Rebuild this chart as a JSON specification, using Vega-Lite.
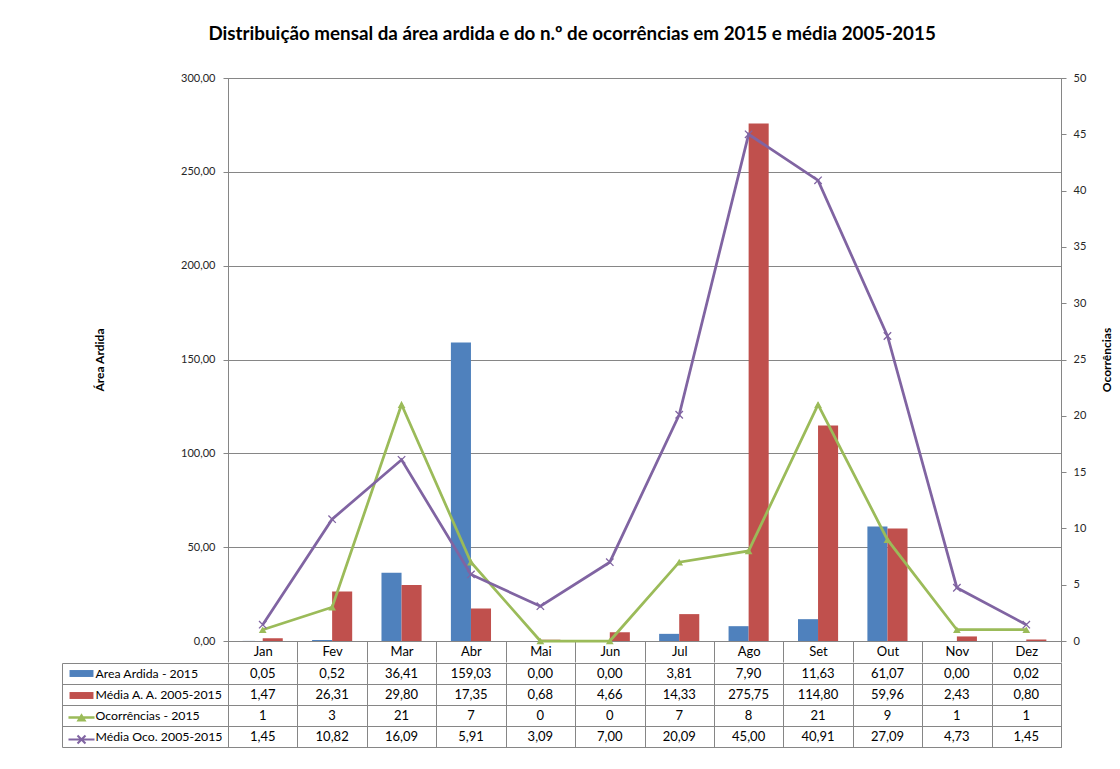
{
  "$schema": "https://vega.github.io/schema/vega-lite/v6.json",
  "padding": {"left": 61, "top": 24, "right": 4, "bottom": 4},
  "background": "white",
  "title": {"text": "Distribuição mensal da área ardida e do n.º de ocorrências em 2015 e média 2005-2015", "font": "Lato", "fontSize": 18.8, "fontWeight": "bold", "color": "#000000", "anchor": "middle", "offset": 28, "dx": -15},
  "config": {
    "locale": {"number": {"decimal": ",", "thousands": ".", "grouping": [3], "currency": ["", " €"]}},
    "view": {"stroke": "#868686", "strokeWidth": 1},
    "font": "Lato",
    "axis": {"labelFont": "Lato", "titleFont": "Lato"}
  },
  "data": {"values": [
    {"m": "Jan", "s": "Area Ardida - 2015", "v": 0.05},
    {"m": "Fev", "s": "Area Ardida - 2015", "v": 0.52},
    {"m": "Mar", "s": "Area Ardida - 2015", "v": 36.41},
    {"m": "Abr", "s": "Area Ardida - 2015", "v": 159.03},
    {"m": "Mai", "s": "Area Ardida - 2015", "v": 0.00},
    {"m": "Jun", "s": "Area Ardida - 2015", "v": 0.00},
    {"m": "Jul", "s": "Area Ardida - 2015", "v": 3.81},
    {"m": "Ago", "s": "Area Ardida - 2015", "v": 7.90},
    {"m": "Set", "s": "Area Ardida - 2015", "v": 11.63},
    {"m": "Out", "s": "Area Ardida - 2015", "v": 61.07},
    {"m": "Nov", "s": "Area Ardida - 2015", "v": 0.00},
    {"m": "Dez", "s": "Area Ardida - 2015", "v": 0.02},
    {"m": "Jan", "s": "Média A. A. 2005-2015", "v": 1.47},
    {"m": "Fev", "s": "Média A. A. 2005-2015", "v": 26.31},
    {"m": "Mar", "s": "Média A. A. 2005-2015", "v": 29.80},
    {"m": "Abr", "s": "Média A. A. 2005-2015", "v": 17.35},
    {"m": "Mai", "s": "Média A. A. 2005-2015", "v": 0.68},
    {"m": "Jun", "s": "Média A. A. 2005-2015", "v": 4.66},
    {"m": "Jul", "s": "Média A. A. 2005-2015", "v": 14.33},
    {"m": "Ago", "s": "Média A. A. 2005-2015", "v": 275.75},
    {"m": "Set", "s": "Média A. A. 2005-2015", "v": 114.80},
    {"m": "Out", "s": "Média A. A. 2005-2015", "v": 59.96},
    {"m": "Nov", "s": "Média A. A. 2005-2015", "v": 2.43},
    {"m": "Dez", "s": "Média A. A. 2005-2015", "v": 0.80},
    {"m": "Jan", "s": "Ocorrências - 2015", "v": 1},
    {"m": "Fev", "s": "Ocorrências - 2015", "v": 3},
    {"m": "Mar", "s": "Ocorrências - 2015", "v": 21},
    {"m": "Abr", "s": "Ocorrências - 2015", "v": 7},
    {"m": "Mai", "s": "Ocorrências - 2015", "v": 0},
    {"m": "Jun", "s": "Ocorrências - 2015", "v": 0},
    {"m": "Jul", "s": "Ocorrências - 2015", "v": 7},
    {"m": "Ago", "s": "Ocorrências - 2015", "v": 8},
    {"m": "Set", "s": "Ocorrências - 2015", "v": 21},
    {"m": "Out", "s": "Ocorrências - 2015", "v": 9},
    {"m": "Nov", "s": "Ocorrências - 2015", "v": 1},
    {"m": "Dez", "s": "Ocorrências - 2015", "v": 1},
    {"m": "Jan", "s": "Média Oco. 2005-2015", "v": 1.45},
    {"m": "Fev", "s": "Média Oco. 2005-2015", "v": 10.82},
    {"m": "Mar", "s": "Média Oco. 2005-2015", "v": 16.09},
    {"m": "Abr", "s": "Média Oco. 2005-2015", "v": 5.91},
    {"m": "Mai", "s": "Média Oco. 2005-2015", "v": 3.09},
    {"m": "Jun", "s": "Média Oco. 2005-2015", "v": 7.00},
    {"m": "Jul", "s": "Média Oco. 2005-2015", "v": 20.09},
    {"m": "Ago", "s": "Média Oco. 2005-2015", "v": 45.00},
    {"m": "Set", "s": "Média Oco. 2005-2015", "v": 40.91},
    {"m": "Out", "s": "Média Oco. 2005-2015", "v": 27.09},
    {"m": "Nov", "s": "Média Oco. 2005-2015", "v": 4.73},
    {"m": "Dez", "s": "Média Oco. 2005-2015", "v": 1.45}
  ]},
  "spacing": -8,
  "resolve": {"scale": {"color": "independent", "shape": "independent"}, "legend": {"color": "independent", "shape": "independent"}},
  "vconcat": [
    {
      "width": 833,
      "height": 563,
      "resolve": {"scale": {"y": "independent"}},
      "encoding": {
        "x": {"field": "m", "type": "nominal", "sort": ["Jan","Fev","Mar","Abr","Mai","Jun","Jul","Ago","Set","Out","Nov","Dez"], "scale": {"paddingInner": 0, "paddingOuter": 0},
          "axis": {"title": null, "orient": "bottom", "domain": false, "ticks": true, "tickBand": "extent", "tickSize": 21, "tickColor": "#868686", "labelAngle": 0, "labelFontSize": 13, "labelColor": "#000000", "labelPadding": -17}}
      },
      "layer": [
        {
          "transform": [{"filter": "datum.s == 'Area Ardida - 2015' || datum.s == 'Média A. A. 2005-2015'"}],
          "mark": {"type": "bar"},
          "encoding": {
            "xOffset": {"field": "s", "type": "nominal", "sort": ["Area Ardida - 2015", "Média A. A. 2005-2015"], "scale": {"paddingInner": 0, "paddingOuter": 0.73}},
            "y": {"field": "v", "type": "quantitative", "scale": {"domain": [0, 300]},
              "axis": {"title": "Área Ardida", "values": [0, 50, 100, 150, 200, 250, 300], "format": ".2f", "grid": true, "gridColor": "#868686", "domainColor": "#868686", "tickColor": "#868686", "tickSize": 5, "labelFontSize": 11, "labelColor": "#262626", "labelPadding": 8, "titleFontSize": 12, "titleFontWeight": "bold", "titleColor": "#000000", "titlePadding": 74}},
            "color": {"field": "s", "type": "nominal", "scale": {"domain": ["Area Ardida - 2015", "Média A. A. 2005-2015"], "range": ["#4F81BD", "#C0504D"]}, "legend": null}
          }
        },
        {
          "encoding": {
            "y": {"field": "v", "type": "quantitative", "scale": {"domain": [0, 50]},
              "axis": {"orient": "right", "title": "Ocorrências", "values": [0,5,10,15,20,25,30,35,40,45,50], "format": "d", "grid": false, "domainColor": "#868686", "tickColor": "#868686", "tickSize": 5, "labelFontSize": 11, "labelColor": "#262626", "labelPadding": 7, "titleFontSize": 12, "titleFontWeight": "bold", "titleColor": "#000000", "titleAngle": 270, "titlePadding": 28}}
          },
          "layer": [
            {"transform": [{"filter": "datum.s == 'Ocorrências - 2015'"}], "mark": {"type": "line", "color": "#9BBB59", "strokeWidth": 2.75}},
            {"transform": [{"filter": "datum.s == 'Ocorrências - 2015'"}], "mark": {"type": "point", "shape": "triangle-up", "filled": true, "opacity": 1, "color": "#9BBB59", "size": 60}},
            {"transform": [{"filter": "datum.s == 'Média Oco. 2005-2015'"}], "mark": {"type": "line", "color": "#8064A2", "strokeWidth": 2.75}},
            {"transform": [{"filter": "datum.s == 'Média Oco. 2005-2015'"}], "mark": {"type": "point", "shape": "M-1,-1L1,1M-1,1L1,-1", "filled": false, "opacity": 1, "color": "#8064A2", "strokeWidth": 1.3, "size": 55}}
          ]
        }
      ]
    },
    {
      "width": 833,
      "height": 84,
      "encoding": {
        "x": {"field": "m", "type": "nominal", "sort": ["Jan","Fev","Mar","Abr","Mai","Jun","Jul","Ago","Set","Out","Nov","Dez"], "scale": {"paddingInner": 0, "paddingOuter": 0},
          "axis": {"title": null, "orient": "bottom", "labels": false, "ticks": false, "domain": false, "grid": true, "gridColor": "#868686", "tickBand": "extent", "minExtent": 0}},
        "y": {"field": "s", "type": "nominal", "sort": ["Area Ardida - 2015", "Média A. A. 2005-2015", "Ocorrências - 2015", "Média Oco. 2005-2015"], "scale": {"paddingInner": 0, "paddingOuter": 0},
          "axis": {"title": null, "offset": 166, "domain": true, "domainColor": "#868686", "ticks": true, "tickSize": -999, "tickColor": "#868686", "tickBand": "extent", "labelAlign": "left", "labelPadding": 966, "labelFontSize": 12.3, "labelColor": "#000000", "grid": false}}
      },
      "layer": [
        {
          "mark": {"type": "text", "fontSize": 13, "font": "Lato", "color": "#000000"},
          "encoding": {
            "text": {"condition": {"test": "datum.s == 'Ocorrências - 2015'", "field": "v", "type": "quantitative", "format": "d"}, "field": "v", "type": "quantitative", "format": ".2f"}
          }
        },
        {
          "mark": {"type": "point", "filled": true, "size": 0},
          "encoding": {
            "color": {"field": "s", "type": "nominal", "scale": {"domain": ["Area Ardida - 2015", "Média A. A. 2005-2015", "Ocorrências - 2015", "Média Oco. 2005-2015"], "range": ["#4F81BD", "#C0504D", "#9BBB59", "#8064A2"]},
              "legend": {"orient": "none", "legendX": -157, "legendY": 0, "title": null, "labelExpr": "' '", "labelOpacity": 0, "labelFontSize": 21, "symbolSize": 441, "rowPadding": 0, "padding": 0, "symbolStrokeWidth": 0, "labelOffset": -30, "symbolOpacity": 1}},
            "shape": {"field": "s", "type": "nominal", "scale": {"domain": ["Area Ardida - 2015", "Média A. A. 2005-2015", "Ocorrências - 2015", "Média Oco. 2005-2015"], "range": [
              "M-1.14,-0.33H1.14V0.33H-1.14Z",
              "M-1.14,-0.33H1.14V0.33H-1.14Z",
              "M-1.24,-0.12H1.24V0.12H-1.24Z M-0.48,0.38L0,-0.4L0.48,0.38Z",
              "M-1.24,-0.1H1.24V0.1H-1.24Z M-0.45,-0.31L-0.31,-0.45L0.45,0.31L0.31,0.45Z M-0.45,0.31L0.31,-0.45L0.45,-0.31L-0.31,0.45Z"
            ]},
              "legend": {"orient": "none", "legendX": -157, "legendY": 0, "title": null, "labelExpr": "' '", "labelOpacity": 0, "labelFontSize": 21, "symbolSize": 441, "rowPadding": 0, "padding": 0, "symbolStrokeWidth": 0, "labelOffset": -30, "symbolOpacity": 1}}
          }
        }
      ]
    }
  ]
}
